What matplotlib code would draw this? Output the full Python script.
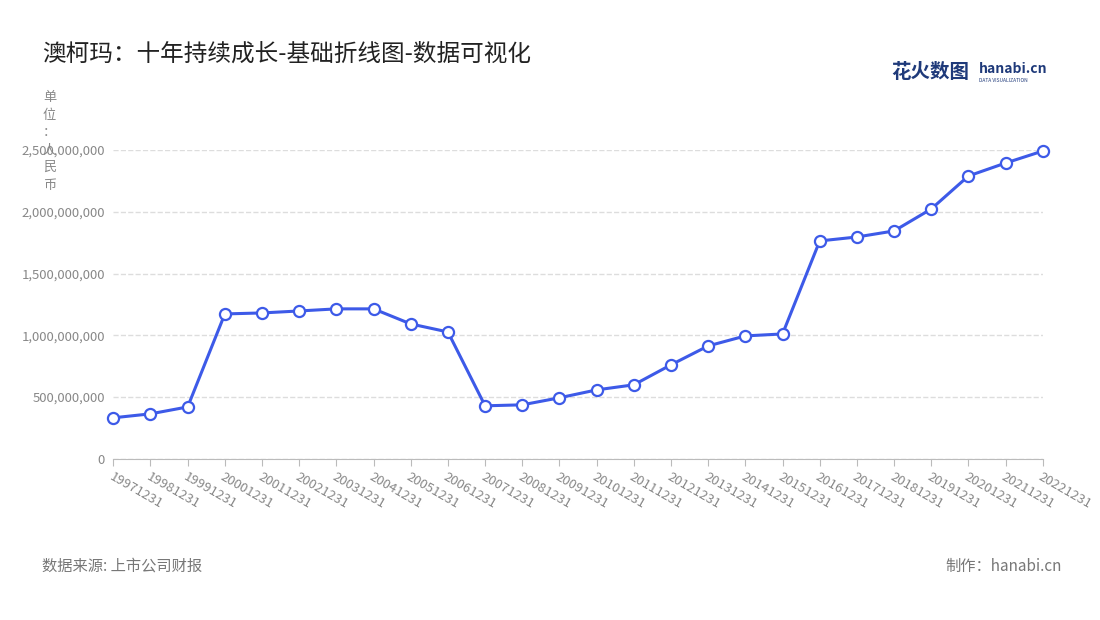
import matplotlib
matplotlib.use("Agg")
import matplotlib.pyplot as plt

plt.rcParams['font.family'] = ['Noto Sans CJK SC', 'DejaVu Sans']

years = [str(y) + "1231" for y in range(1997, 2023)]
values = [0.332, 0.364, 0.42, 1.173, 1.181, 1.197, 1.214, 1.214, 1.092, 1.027,
          0.429, 0.437, 0.494, 0.558, 0.599, 0.761, 0.914, 0.995, 1.011, 1.764,
          1.796, 1.845, 2.023, 2.290, 2.395, 2.492]
values = [v * 1e9 for v in values]
yticks = [0, 5e8, 1e9, 1.5e9, 2e9, 2.5e9]

fig = plt.figure(figsize=(11, 6.2), dpi=100)
ax = fig.add_axes([0.103, 0.26, 0.845, 0.498])
x = list(range(len(years)))
ax.plot(x, values, color='#3d5ae8', lw=2.2, marker='o', ms=8, clip_on=False,
        markerfacecolor='white', markeredgecolor='#3d5ae8', markeredgewidth=1.6, zorder=3)
ax.set_xlim(0, len(years) - 1)
ax.set_ylim(0, 2.5e9)
ax.set_yticks(yticks)
ax.set_yticklabels([f"{int(v):,}" for v in yticks], color='#888888', fontsize=9.5)
ax.set_xticks(x)
ax.set_xticklabels(years, rotation=-30, ha='left', va='top', rotation_mode='anchor',
                   color='#888888', fontsize=9.5)
ax.grid(axis='y', color='#dddddd', ls='--', lw=1)
for s in ['top', 'right', 'left']:
    ax.spines[s].set_visible(False)
ax.spines['bottom'].set_color('#bbbbbb')
ax.tick_params(axis='y', length=0, pad=6)
ax.tick_params(axis='x', color='#bbbbbb', length=5)

fig.text(0.038, 0.912, "澳柯玛：十年持续成长-基础折线图-数据可视化", fontsize=17, color='#222222', va='center')
fig.text(0.045, 0.853, "单\n位\n：\n人\n民\n币", fontsize=9.5, color='#888888', va='top', ha='center', linespacing=1.45)
fig.text(0.038, 0.087, "数据来源: 上市公司财报", fontsize=11, color='#777777', va='center')
fig.text(0.965, 0.087, "制作：hanabi.cn", fontsize=11, color='#777777', va='center', ha='right')
fig.text(0.81, 0.883, "花火数图", fontsize=14, color='#1f3a7a', va='center', weight='bold')
fig.text(0.89, 0.888, "hanabi.cn", fontsize=10, color='#1f3a7a', va='center', weight='bold')
fig.text(0.89, 0.870, "DATA VISUALIZATION", fontsize=3.5, color='#1f3a7a', va='center')

fig.savefig("out.png", dpi=100)
